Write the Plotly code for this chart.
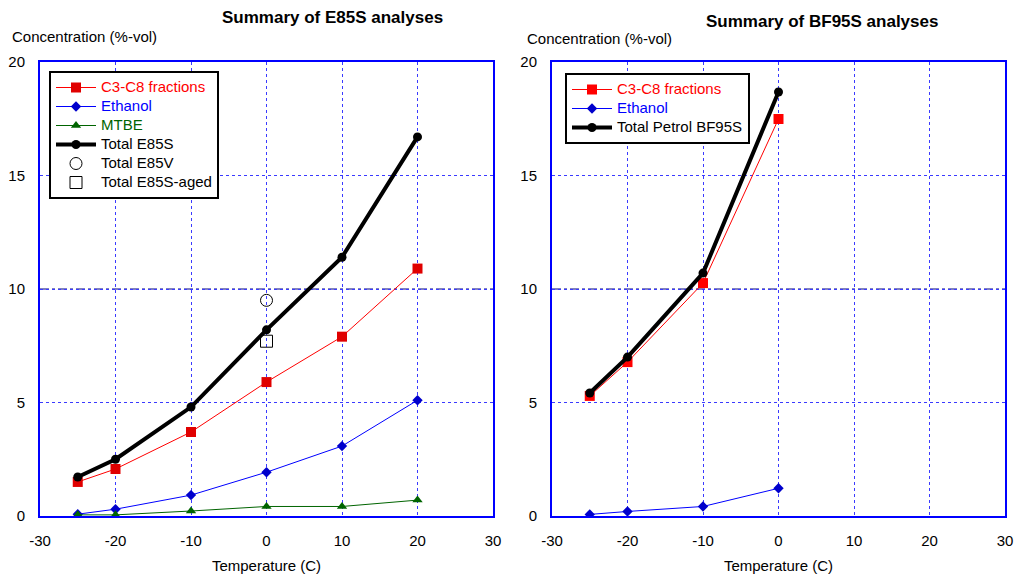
import plotly.graph_objects as go

# ---- Data ----
temps_e85 = [-25, -20, -10, 0, 10, 20]
c3c8_e85 = [1.5, 2.07, 3.7, 5.9, 7.9, 10.9]
ethanol_e85 = [0.08, 0.3, 0.92, 1.93, 3.08, 5.1]
mtbe_e85 = [0.05, 0.05, 0.22, 0.42, 0.42, 0.7]
total_e85s = [1.72, 2.5, 4.8, 8.2, 11.4, 16.7]
e85v_temp = [0]
total_e85v = [9.5]
e85aged_temp = [0]
total_e85s_aged = [7.7]

temps_bf95 = [-25, -20, -10, 0]
c3c8_bf95 = [5.29, 6.78, 10.26, 17.49]
ethanol_bf95 = [0.07, 0.2, 0.42, 1.22]
total_bf95 = [5.42, 7.0, 10.7, 18.68]

x_ticks = [-30, -20, -10, 0, 10, 20, 30]
x_ticktext = ["-30", "-20", "-10", "0", "10", "20", "30"]
y_ticks = [0, 5, 10, 15, 20]
y_ticktext = ["0", "5", "10", "15", "20"]

RED = "#ff0000"
BLUE = "#0000ff"
GREEN = "#006400"
BLACK = "#000000"
FONT = "Arial, Liberation Sans, sans-serif"

def lbl(text, color):
    return f"<span style='color:{color};font-size:15px'>{text}</span>"

fig = go.Figure()

# Left chart
fig.add_trace(go.Scatter(x=temps_e85, y=c3c8_e85, mode="lines+markers", name=lbl("C3-C8 fractions", RED),
                         line=dict(color=RED, width=1), marker=dict(symbol="square", size=10, color="#e00000"),
                         xaxis="x", yaxis="y", legend="legend"))
fig.add_trace(go.Scatter(x=temps_e85, y=ethanol_e85, mode="lines+markers", name=lbl("Ethanol", BLUE),
                         line=dict(color=BLUE, width=1), marker=dict(symbol="diamond", size=8, color="#0000cc"),
                         xaxis="x", yaxis="y", legend="legend"))
fig.add_trace(go.Scatter(x=temps_e85, y=mtbe_e85, mode="lines+markers", name=lbl("MTBE", GREEN),
                         line=dict(color=GREEN, width=1), marker=dict(symbol="triangle-up", size=9, color=GREEN),
                         xaxis="x", yaxis="y", legend="legend"))
fig.add_trace(go.Scatter(x=temps_e85, y=total_e85s, mode="lines+markers", name=lbl("Total E85S", BLACK),
                         line=dict(color=BLACK, width=4), marker=dict(symbol="circle", size=9, color=BLACK),
                         xaxis="x", yaxis="y", legend="legend"))
fig.add_trace(go.Scatter(x=e85v_temp, y=total_e85v, mode="markers", name=lbl("Total E85V", BLACK),
                         marker=dict(symbol="circle-open", size=12, color=BLACK, line=dict(width=1)),
                         xaxis="x", yaxis="y", legend="legend"))
fig.add_trace(go.Scatter(x=e85aged_temp, y=total_e85s_aged, mode="markers", name=lbl("Total E85S-aged", BLACK),
                         marker=dict(symbol="square-open", size=12, color=BLACK, line=dict(width=1)),
                         xaxis="x", yaxis="y", legend="legend"))

# Right chart
fig.add_trace(go.Scatter(x=temps_bf95, y=c3c8_bf95, mode="lines+markers", name=lbl("C3-C8 fractions", RED),
                         line=dict(color=RED, width=1), marker=dict(symbol="square", size=10, color=RED),
                         xaxis="x2", yaxis="y2", legend="legend2"))
fig.add_trace(go.Scatter(x=temps_bf95, y=ethanol_bf95, mode="lines+markers", name=lbl("Ethanol", BLUE),
                         line=dict(color=BLUE, width=1), marker=dict(symbol="diamond", size=8, color="#0000cc"),
                         xaxis="x2", yaxis="y2", legend="legend2"))
fig.add_trace(go.Scatter(x=temps_bf95, y=total_bf95, mode="lines+markers", name=lbl("Total Petrol BF95S", BLACK),
                         line=dict(color=BLACK, width=4), marker=dict(symbol="circle", size=9, color=BLACK),
                         xaxis="x2", yaxis="y2", legend="legend2"))

L = 40; R = 9; T = 62; B = 58
W, H = 1014, 574
pw = W - L - R
ph = H - T - B
dom1 = [0, (493 - L) / pw]
dom2 = [(552 - L) / pw, 1]

axis_common = dict(
    showline=True, linecolor="#0000ff", linewidth=2, mirror=True,
    showgrid=True, gridcolor="#3a3aff", griddash="dot", gridwidth=1,
    zeroline=False, ticks="", automargin=False,
    tickfont=dict(family=FONT, size=15, color="black"),
)
xcommon = dict(axis_common, range=[-30, 30], tickmode="array", tickvals=x_ticks, ticktext=x_ticktext,
               ticklabelstandoff=10,
               title=dict(text="Temperature (C)", font=dict(family=FONT, size=15, color="black"), standoff=14))
ycommon = dict(axis_common, range=[0, 20], tickmode="array", tickvals=y_ticks, ticktext=y_ticktext,
               ticklabelstandoff=10)

legend_common = dict(xanchor="left", yanchor="top", bgcolor="white", bordercolor="black", borderwidth=2,
                     font=dict(family=FONT, size=12, color="black"), itemwidth=40)

fig.update_layout(
    width=W, height=H,
    margin=dict(l=L, r=R, t=T, b=B),
    paper_bgcolor="white", plot_bgcolor="white",
    font=dict(family=FONT, size=15, color="black"),
    xaxis=dict(xcommon, domain=dom1, anchor="y"),
    yaxis=dict(ycommon, domain=[0, 1], anchor="x"),
    xaxis2=dict(xcommon, domain=dom2, anchor="y2"),
    yaxis2=dict(ycommon, domain=[0, 1], anchor="x2"),
    legend=dict(legend_common, x=(49 - L) / pw, y=1 - (71 - T) / ph),
    legend2=dict(legend_common, x=(565 - L) / pw, y=1 - (73 - T) / ph),
    showlegend=True,
)

# Darker dash-dot line at y=10 as in the original
for xr, yr in (("x", "y"), ("x2", "y2")):
    fig.add_shape(type="line", xref=f"{xr} domain", yref=yr, x0=0, x1=1, y0=10, y1=10,
                  line=dict(color="#000080", width=1, dash="dashdot"), layer="below")

annots = [
    dict(text="<b>Summary of E85S analyses</b>", x=332, y=17, size=17),
    dict(text="<b>Summary of BF95S analyses</b>", x=822, y=22, size=17),
]
for a in annots:
    fig.add_annotation(text=a["text"], xref="paper", yref="paper",
                       x=(a["x"] - L) / pw, y=1 - (a["y"] - T) / ph,
                       showarrow=False, xanchor="center", yanchor="middle",
                       font=dict(family=FONT, size=a["size"], color="black"))
for xpx, ypx in ((10, 36), (525, 38)):
    fig.add_annotation(text="Concentration (%-vol)", xref="paper", yref="paper",
                       x=(xpx - L) / pw, y=1 - (ypx - T) / ph,
                       showarrow=False, xanchor="left", yanchor="middle",
                       font=dict(family=FONT, size=15, color="black"))

fig.write_html("out.html")
